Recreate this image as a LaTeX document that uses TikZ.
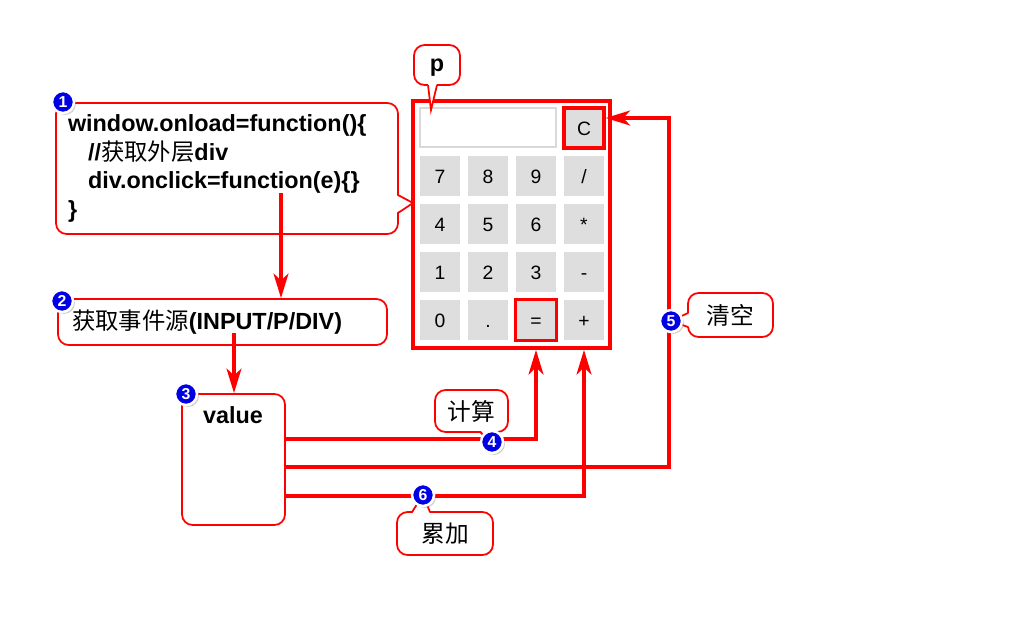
\documentclass[tikz,border=0pt]{standalone}
\usepackage{fontspec}
\setmainfont{Liberation Sans}
\newfontfamily\cjk{Noto Sans CJK SC}
\usetikzlibrary{arrows.meta,shadows}

\begin{document}
\begin{tikzpicture}[x=0.02cm, y=-0.02cm, >={Stealth[length=14pt,width=8.5pt,inset=4pt]},
        hot/.style={draw=red, line width=1.8pt},
        flow/.style={red, line width=2pt, ->},
        note/.style={draw=red, line width=1pt, fill=white, rounded corners=6pt, inner sep=0pt},
        tipline/.style={red, line width=1pt},
        key/.style={fill=black!13, minimum size=0.8cm, inner sep=0pt, text height=8pt, text depth=0pt,
            font=\fontsize{11}{11}\selectfont},
        num/.style={circle, fill=blue!90!black, draw=white, line width=1.4pt, text=white, inner sep=0pt,
            minimum size=0.44cm, font=\bfseries\fontsize{9}{9}\selectfont,
            drop shadow={opacity=0.35, shadow xshift=0.04cm, shadow yshift=-0.04cm}},
        big/.style={font=\bfseries\fontsize{13.3}{16.4}\selectfont}]
    \useasboundingbox (0,0) rectangle (1024,622);
    % calculator
    \node[hot, line width=2.2pt, minimum width=3.94cm, minimum height=4.94cm] (calc) at (511.5,224.5) {};
    \node[draw=black!15, line width=0.6pt, minimum width=2.72cm, minimum height=0.78cm] (disp) at (488,127.5) {};
    \node[key, hot] (clr) at (584,128) {C};
    \foreach \t [count=\i from 1] in {7,8,9,{/},4,5,6,{*},1,2,3,{-},0,{.},{=},{+}}
        {
            \pgfmathtruncatemacro\cx{mod(\i-1,4)}
            \pgfmathtruncatemacro\cy{div(\i-1,4)}
            \node[key] (k\i) at (440+48*\cx, 176+48*\cy) {\t};
        }
    \draw[hot] (k15.south west) rectangle (k15.north east);
    % notes
    \node[note, big, text width=6.36cm, inner xsep=0.24cm, minimum height=2.62cm, align=left] (c1) at (227,168.5)
        {window.onload=function()\{\\
        \hspace*{0.4cm}//{\cjk\mdseries 获取外层}div\\
        \hspace*{0.4cm}div.onclick=function(e)\{\}\\
        \}};
    \fill[white] (396,195) -- (413,203) -- (396,213) -- cycle;
    \draw[tipline] (398,195) -- (413,203) -- (398,213);
    \node[note, big, text width=6.02cm, inner xsep=0.28cm, minimum height=0.92cm, align=left] (c2) at (222.5,322)
        {{\cjk\mdseries 获取事件源}(INPUT/P/DIV)};
    \node[note, minimum width=2.06cm, minimum height=2.62cm] (val) at (233.5,459.5) {};
    \node[big] (vtext) at (233,415) {value};
    \node[note, big, minimum width=0.92cm, minimum height=0.8cm, text height=10pt] (pnote) at (437,65) {p};
    \fill[white] (428,83) -- (431,110) -- (437,83) -- cycle;
    \draw[tipline] (428,85) -- (431,110) -- (437,85);
    \node[note, minimum width=1.46cm, minimum height=0.84cm, font=\cjk\fontsize{13.5}{16}\selectfont] (calcnote) at (471.5,411) {计算};
    \fill[white] (480,430) -- (490,441) -- (498,430) -- cycle;
    \draw[tipline] (480,432) -- (490,441) -- (498,432);
    \node[note, minimum width=1.7cm, minimum height=0.88cm, font=\cjk\fontsize{13.5}{16}\selectfont] (clrnote) at (730.5,315) {清空};
    \fill[white] (690,313) -- (671,321) -- (690,327) -- cycle;
    \draw[tipline] (688,313) -- (671,321) -- (688,327);
    \node[note, minimum width=1.92cm, minimum height=0.86cm, font=\cjk\fontsize{13.5}{16}\selectfont] (addnote) at (445,533.5) {累加};
    \fill[white] (412,514) -- (423,495) -- (430,514) -- cycle;
    \draw[tipline] (412,512) -- (423,495) -- (430,512);
    % connectors
    \coordinate (s1) at (281,193);
    \coordinate (s2) at (234,333);
    \coordinate (bend) at (669,118);
    \draw[flow] (s1) -- (s1 |- c2.north);
    \draw[flow] (s2) -- (s2 |- val.north);
    \draw[flow] (val.east |- 0,439) -| (k15 |- calc.south);
    \draw[flow] (val.east |- 0,467) -| (bend) -- (clr.east |- bend);
    \draw[flow] (val.east |- 0,496) -| (k16 |- calc.south);
    % step numbers
    \node[num] (m1) at (63,102) {1};
    \node[num] (m2) at (62,301) {2};
    \node[num] (m3) at (186,394) {3};
    \node[num] (m4) at (492,442) {4};
    \node[num] (m5) at (671,321) {5};
    \node[num] (m6) at (423,495) {6};
\end{tikzpicture}
\end{document}
